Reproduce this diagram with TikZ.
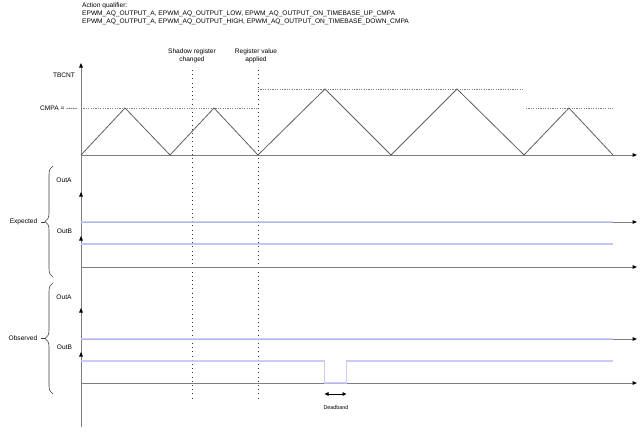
\documentclass[tikz,border=0pt]{standalone}
\usepackage{fontspec}
\setmainfont{Liberation Sans}
\usetikzlibrary{arrows.meta,decorations.pathreplacing}
\definecolor{axisgray}{RGB}{125,125,125}
\definecolor{wavegray}{RGB}{95,95,95}
\definecolor{siglue}{RGB}{195,195,250}
\begin{document}
\begin{tikzpicture}[x=1pt,y=-1pt,
  lbl/.style={font=\fontsize{6.6}{8}\selectfont, inner sep=0pt, align=center},
  smalllbl/.style={font=\fontsize{5.4}{6}\selectfont, inner sep=0pt},
  axisline/.style={draw=axisgray, line width=1pt},
  axarrow/.style={axisline, -{Triangle[length=4.5pt,width=3.6pt,black]}},
  wave/.style={draw=wavegray, line width=0.8pt, line join=miter},
  cmpaline/.style={draw=black!50, line width=0.6pt, dash pattern=on 1.2pt off 1.2pt},
  eventline/.style={draw=black!80, line width=0.9pt, dash pattern=on 1pt off 3.2pt},
  sigline/.style={draw=siglue, line width=1.1pt},
  bracestyle/.style={draw=black!75, line width=0.6pt, decorate, decoration={brace, amplitude=8pt}},
  dbarrow/.style={draw=black, line width=0.8pt, {Triangle[length=4pt,width=3.6pt]}-{Triangle[length=4pt,width=3.6pt]}}
]
\useasboundingbox (0,0) rectangle (640,432);

% header text
\node[lbl, anchor=north west, align=left] (aq) at (82,3)
  {Action qualifier:\\EPWM\_AQ\_OUTPUT\_A, EPWM\_AQ\_OUTPUT\_LOW, EPWM\_AQ\_OUTPUT\_ON\_TIMEBASE\_UP\_CMPA\\EPWM\_AQ\_OUTPUT\_A, EPWM\_AQ\_OUTPUT\_HIGH, EPWM\_AQ\_OUTPUT\_ON\_TIMEBASE\_DOWN\_CMPA};
\node[lbl] (shadow) at (192,55.5) {Shadow register\\changed};
\node[lbl] (applied) at (256,55.5) {Register value\\applied};

% coordinates
\coordinate (vtop) at (81,63);
\coordinate (vbot) at (81,427);
\coordinate (t0) at (81,155);   \coordinate (tend) at (637,155);
\coordinate (p1) at (125,108);  \coordinate (v1) at (170,155);
\coordinate (p2) at (214,108);  \coordinate (v2) at (258,155);
\coordinate (p3) at (325,89);   \coordinate (v3) at (391,155);
\coordinate (p4) at (457,89);   \coordinate (v4) at (524,155);
\coordinate (p5) at (569,108);  \coordinate (v5) at (613,155);

% main vertical axis
\draw[axarrow] (vbot) -- (vtop);

% event lines
\coordinate (sh1) at (192,70); \coordinate (sh2) at (192,399);
\coordinate (ap1) at (258,70); \coordinate (ap2) at (258,399);
\draw[eventline] (sh1) -- (sh2);
\draw[eventline] (ap1) -- (ap2);

% TBCNT
\node[lbl] (tbcnt) at (64,75) {TBCNT};
\node[lbl, anchor=east] (cmpa) at (77.5,108) {CMPA = {-}{-}{-}{-}{-}};
\coordinate (c1a) at (81,108);  \coordinate (c1b) at (258,108);
\coordinate (c2a) at (258,89);  \coordinate (c2b) at (523,89);
\coordinate (c3a) at (526,108); \coordinate (c3b) at (613,108);
\draw[cmpaline] (c1a) -- (c1b);
\draw[cmpaline] (c2a) -- (c2b);
\draw[cmpaline] (c3a) -- (c3b);
\draw[axarrow] (t0) -- (tend);
\draw[wave] (t0) -- (p1) -- (v1) -- (p2) -- (v2) -- (p3) -- (v3) -- (p4) -- (v4) -- (p5) -- (v5);

% Expected block
\coordinate (ebA0) at (81,222); \coordinate (ebA1) at (81,192); \coordinate (eaA) at (637,222);
\coordinate (ebB0) at (81,267); \coordinate (ebB1) at (81,236); \coordinate (eaB) at (637,267);
\draw[axarrow] (ebA0) -- (ebA1);
\draw[axarrow] (ebB0) -- (ebB1);
\draw[axarrow] (ebA0) -- (eaA);
\draw[axarrow] (ebB0) -- (eaB);
\coordinate (esA1) at (613,222);
\coordinate (esB0) at (81,244); \coordinate (esB1) at (613,244);
\draw[sigline, draw opacity=0.8] (ebA0) -- (esA1);
\draw[sigline] (esB0) -- (esB1);
\node[lbl] (eoa) at (64,180) {OutA};
\node[lbl] (eob) at (64.5,231) {OutB};
\coordinate (ebr1) at (53,277); \coordinate (ebr2) at (53,166);
\draw[bracestyle] (ebr1) -- (ebr2);
\node[lbl, anchor=east] (expected) at (37.5,222) {Expected};
\draw[draw=black!75, line width=0.6pt] ([xshift=3.5pt]expected.east) -- ++(3.5,0);

% Observed block
\coordinate (obA0) at (81,339); \coordinate (obA1) at (81,308); \coordinate (oaA) at (637,339);
\coordinate (obB0) at (81,383); \coordinate (obB1) at (81,352); \coordinate (oaB) at (637,383);
\draw[axarrow] (obA0) -- (obA1);
\draw[axarrow] (obB0) -- (obB1);
\draw[axarrow] (obA0) -- (oaA);
\draw[axarrow] (obB0) -- (oaB);
\coordinate (osA1) at (613,339);
\coordinate (osB0) at (81,361); \coordinate (osB1) at (324.5,361);
\coordinate (osB2) at (324.5,383); \coordinate (osB3) at (346.5,383);
\coordinate (osB4) at (346.5,361); \coordinate (osB5) at (613,361);
\draw[sigline, draw opacity=0.8] (obA0) -- (osA1);
\draw[sigline, draw opacity=0.85] (osB0) -- (osB1) -- (osB2) -- (osB3) -- (osB4) -- (osB5);
\node[lbl] (ooa) at (64,297) {OutA};
\node[lbl] (oob) at (64.5,347) {OutB};
\coordinate (obr1) at (53,394); \coordinate (obr2) at (53,283);
\draw[bracestyle] (obr1) -- (obr2);
\node[lbl, anchor=east] (observed) at (37.5,338) {Observed};
\draw[draw=black!75, line width=0.6pt] ([xshift=3.5pt]observed.east) -- ++(3.5,0);

% Deadband
\coordinate (db1) at (324.5,394); \coordinate (db2) at (346.5,394);
\draw[dbarrow] (db1) -- (db2);
\node[smalllbl] (deadband) at (336,408) {Deadband};
\end{tikzpicture}
\end{document}
